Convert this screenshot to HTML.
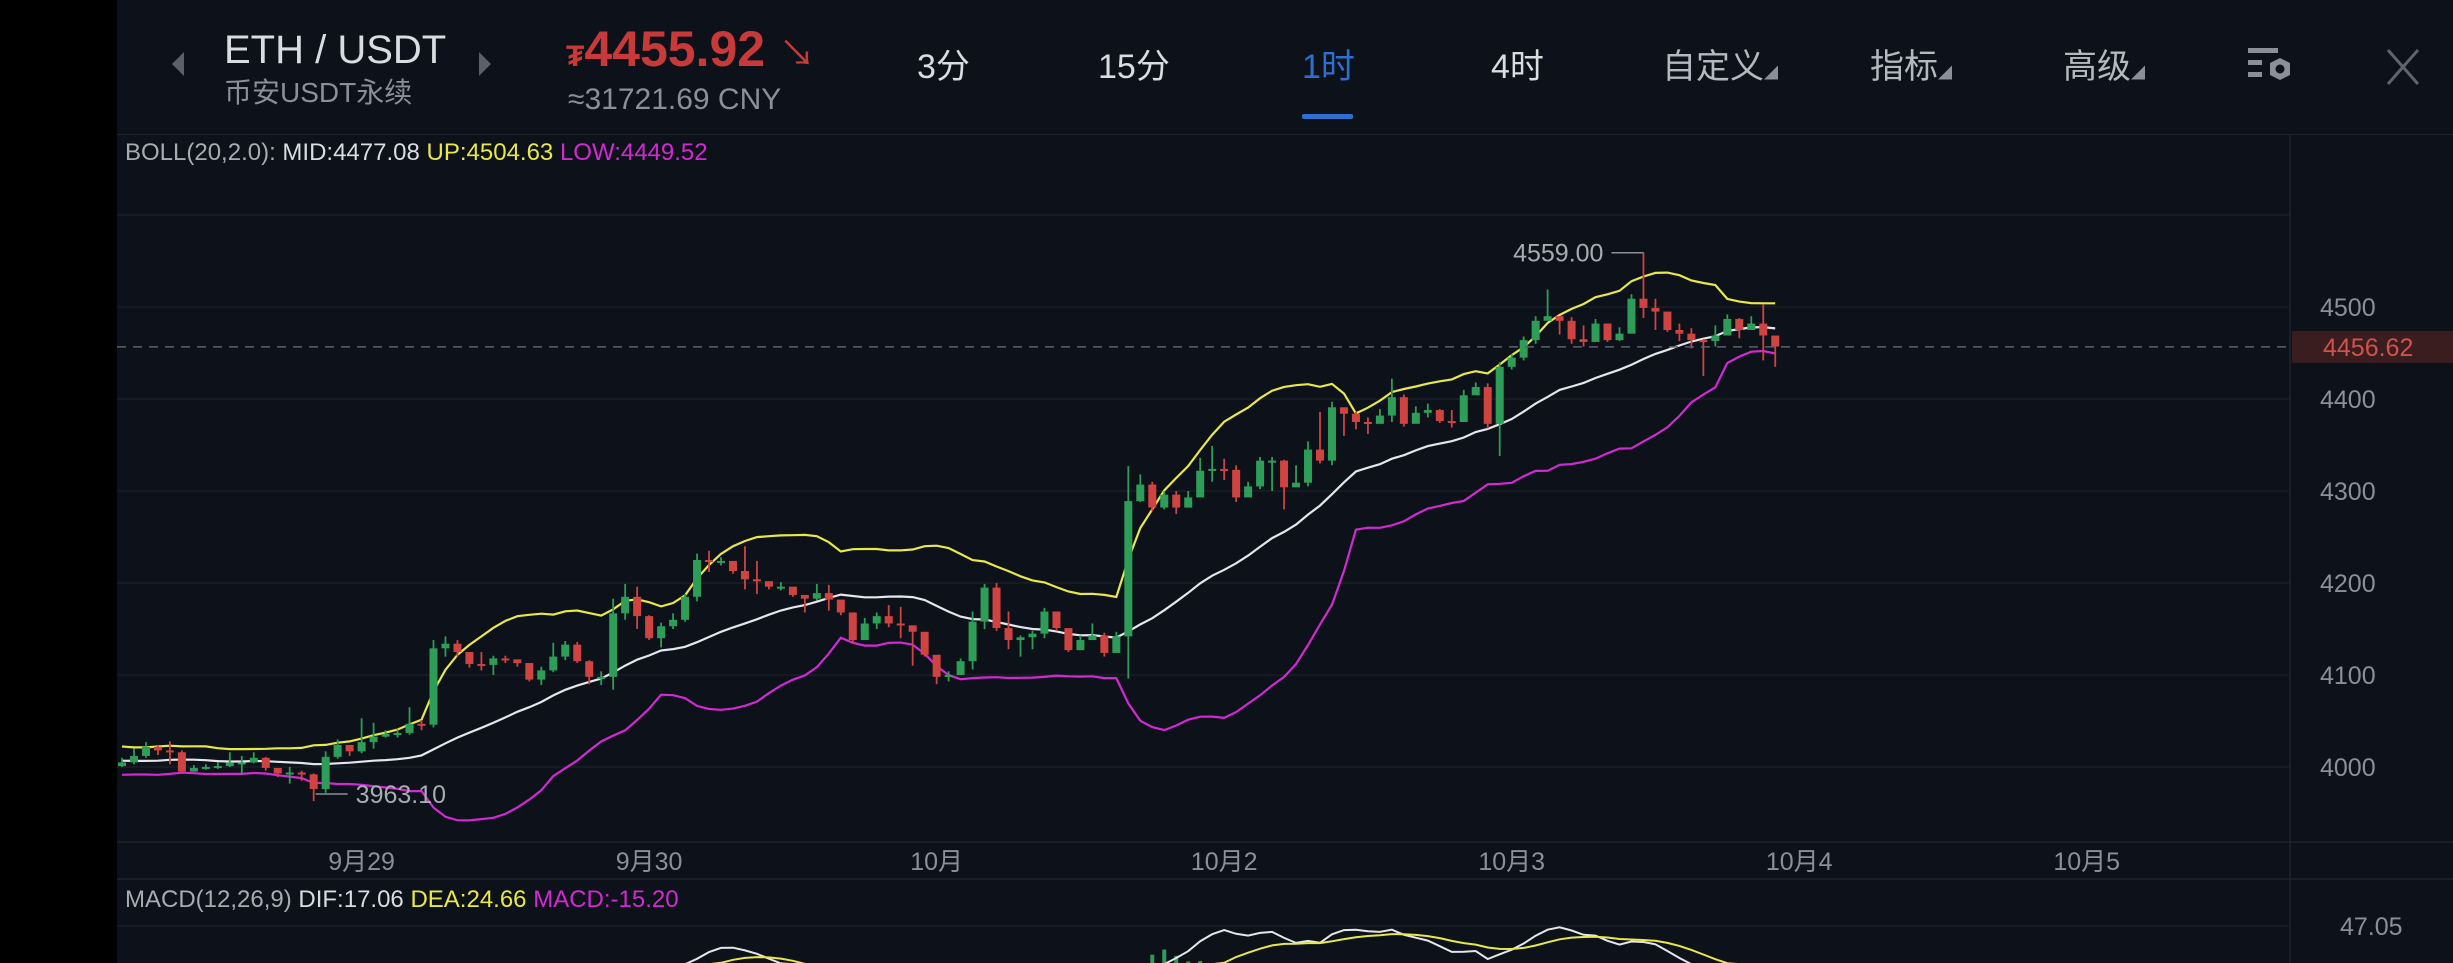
<!DOCTYPE html>
<html><head><meta charset="utf-8">
<style>
html,body{margin:0;padding:0;background:#0d1119;width:2453px;height:963px;overflow:hidden;}
#root{position:relative;width:2453px;height:963px;overflow:hidden;background:#0d1119;font-family:"Liberation Sans","Noto Sans CJK SC",sans-serif;}
.t{position:absolute;white-space:nowrap;line-height:1;}
</style></head>
<body>
<div id="root">
<div class="t" style="left:0;top:0;width:117px;height:963px;background:#000;"></div>
<div class="t" style="left:172px;top:52px;width:0;height:0;border-top:12px solid transparent;border-bottom:12px solid transparent;border-right:12px solid #5a5f68;"></div>
<div class="t" style="left:224px;top:30px;font-size:40px;color:#d9dce1;">ETH / USDT</div>
<div class="t" style="left:479px;top:52px;width:0;height:0;border-top:12px solid transparent;border-bottom:12px solid transparent;border-left:12px solid #5a5f68;"></div>
<div class="t" style="left:224px;top:79px;font-size:28px;color:#8a8f99;">币安USDT永续</div>
<div class="t" style="left:566px;top:24px;font-size:50px;font-weight:bold;color:#c8393a;"><span style="font-size:30px;">₮</span>4455.92 <span style="font-size:36px;font-weight:normal;">↘</span></div>
<div class="t" style="left:568px;top:85px;font-size:30px;color:#8a8f99;">≈31721.69 CNY</div>
<div class="t" style="left:917px;top:50px;font-size:34px;color:#d9dce1;">3分</div>
<div class="t" style="left:1098px;top:50px;font-size:34px;color:#d9dce1;">15分</div>
<div class="t" style="left:1302px;top:50px;font-size:34px;color:#2f6fd0;">1时</div>
<div class="t" style="left:1302px;top:114px;width:51px;height:5px;background:#2f6fd0;border-radius:2px;"></div>
<div class="t" style="left:1491px;top:50px;font-size:34px;color:#d9dce1;">4时</div>
<div class="t" style="left:1662px;top:50px;font-size:34px;color:#b4b8bf;">自定义<span style="font-size:14px;color:#8a8f99;">◢</span></div>
<div class="t" style="left:1870px;top:50px;font-size:34px;color:#b4b8bf;">指标<span style="font-size:14px;color:#8a8f99;">◢</span></div>
<div class="t" style="left:2063px;top:50px;font-size:34px;color:#b4b8bf;">高级<span style="font-size:14px;color:#8a8f99;">◢</span></div>
<svg class="t" style="left:2248px;top:46px;" width="48" height="44" viewBox="0 0 48 44">
<rect x="0" y="2" width="30" height="5" fill="#8a8f99"/><rect x="0" y="14" width="14" height="5" fill="#8a8f99"/><rect x="0" y="26" width="14" height="5" fill="#8a8f99"/>
<polygon points="32,12 42,17 42,29 32,34 22,29 22,17" fill="#8a8f99"/><circle cx="32" cy="23" r="4.5" fill="#0d1119"/></svg>
<svg class="t" style="left:2386px;top:48px;" width="34" height="38"><path d="M2 2 L32 36 M32 2 L2 36" stroke="#5f646d" stroke-width="3"/></svg>
<div class="t" style="left:117px;top:134px;width:2336px;height:1px;background:#1f242c;"></div>
<div class="t" style="left:125px;top:141px;font-size:24px;color:#a7abb2;">BOLL(20,2.0): <span style="color:#d9dce1">MID:4477.08</span> <span style="color:#e8e84a">UP:4504.63</span> <span style="color:#d22ad2">LOW:4449.52</span></div>
<div class="t" style="left:125px;top:888px;font-size:24px;color:#a7abb2;">MACD(12,26,9) <span style="color:#d9dce1">DIF:17.06</span> <span style="color:#e8e84a">DEA:24.66</span> <span style="color:#d22ad2">MACD:-15.20</span></div>
<svg id="chart" class="t" style="left:0;top:0;overflow:hidden;" width="2453" height="963"></svg>
</div>
<script>
const closes=[4005,4012,4022,4018,4016,3995,3999,4000,4001,4005,4005,4010,3999,3993,3994,3992,3976,4011,4024,4017,4027,4033,4036,4037,4047,4046,4129,4134,4125,4112,4111,4118,4117,4113,4095,4105,4120,4133,4115,4098,4098,4167,4185,4164,4140,4153,4160,4185,4225,4224,4224,4213,4204,4202,4196,4196,4187,4183,4189,4182,4168,4138,4156,4164,4156,4154,4147,4122,4098,4100,4115,4158,4195,4151,4138,4141,4145,4169,4151,4127,4138,4143,4124,4142,4289,4307,4282,4296,4282,4293,4322,4324,4323,4293,4305,4333,4333,4304,4309,4345,4333,4391,4384,4375,4373,4382,4402,4373,4385,4388,4376,4375,4404,4413,4373,4435,4445,4464,4485,4490,4485,4465,4462,4482,4464,4471,4509,4499,4495,4475,4471,4464,4463,4469,4487,4475,4482,4469,4457];
const highs=[4010,4020,4027,4023,4028,4018,4002,4003,4005,4016,4012,4016,4011,3998,4000,3996,3993,4017,4030,4022,4053,4048,4040,4041,4065,4051,4138,4142,4138,4125,4125,4121,4121,4116,4113,4109,4135,4137,4136,4116,4104,4183,4199,4196,4165,4157,4167,4188,4232,4235,4228,4216,4240,4224,4200,4201,4192,4186,4199,4198,4170,4146,4162,4168,4176,4174,4152,4126,4111,4104,4118,4169,4199,4200,4169,4143,4148,4173,4155,4130,4143,4156,4146,4147,4327,4318,4310,4300,4300,4300,4336,4349,4335,4328,4310,4337,4337,4334,4328,4354,4386,4397,4390,4386,4380,4389,4422,4405,4392,4395,4389,4388,4410,4418,4417,4440,4449,4468,4490,4519,4490,4489,4480,4487,4469,4478,4514,4559,4509,4493,4482,4477,4465,4480,4492,4488,4490,4503,4461];
const lows=[4000,4003,4010,4013,4003,3993,3995,3997,3998,4000,3992,4004,3996,3989,3982,3985,3963,3972,4009,4012,4015,4020,4032,4032,4035,4040,4043,4120,4120,4108,4105,4100,4113,4109,4093,4089,4103,4116,4113,4090,4089,4084,4160,4150,4138,4130,4150,4158,4180,4212,4219,4210,4193,4188,4193,4192,4185,4168,4181,4170,4165,4135,4138,4150,4152,4140,4110,4120,4090,4093,4110,4106,4150,4148,4128,4120,4128,4140,4148,4125,4130,4141,4120,4127,4096,4288,4278,4280,4275,4288,4318,4310,4312,4288,4294,4302,4300,4280,4305,4305,4330,4328,4360,4367,4362,4378,4375,4370,4378,4380,4374,4369,4378,4408,4368,4338,4432,4442,4460,4487,4470,4460,4457,4478,4462,4463,4480,4488,4475,4473,4463,4455,4425,4457,4482,4466,4475,4442,4435];
const priorCloses=[4000,4015,4020,4010,3995,4000,4005,4018,4022,4012,3998,3990,4002,4010,4020,4015,4005,3998,4003,4006,4009,4004,4001,4007,4010,4003];
const priceTicks=[4500,4400,4300,4200,4100,4000];
const gridPrices=[4600,4500,4400,4300,4200,4100,4000];
const dateLabels=["9月29","9月30","10月","10月2","10月3","10月4","10月5"];
const dateIndex=[20,44,68,92,116,140,164];
const lastPrice=4456.62, maxHigh=4559.00, minLow=3963.10;
const macdTop=47.05;

const svg=document.getElementById('chart');
const NS='http://www.w3.org/2000/svg';
const X0=122, STEP=11.98;
function xAt(i){return X0+i*STEP;}
function yP(p){return 307+(4500-p)*0.92;}
function yM(v){return Math.min(964.2,926+(macdTop-v)*2.4);}
function mk(tag,attrs,parent){const e=document.createElementNS(NS,tag);for(const k in attrs)e.setAttribute(k,attrs[k]);(parent||svg).appendChild(e);return e;}

const defs=mk('defs',{});
const cp=mk('clipPath',{id:'mainclip'},defs);mk('rect',{x:117,y:135,width:2173,height:707},cp);
const cp2=mk('clipPath',{id:'macdclip'},defs);mk('rect',{x:117,y:880,width:2173,height:83},cp2);

let e;
e=mk('line',{x1:2290,y1:135,x2:2290,y2:963,stroke:'#1f242c','stroke-width':1.5});


e=mk('line',{x1:117,y1:842,x2:2453,y2:842,stroke:'#1f242c','stroke-width':1.5});


e=mk('line',{x1:117,y1:879,x2:2453,y2:879,stroke:'#1f242c','stroke-width':1.5});


e=mk('line',{x1:117,y1:926,x2:2290,y2:926,stroke:'#1a1f27','stroke-width':1.5});



gridPrices.forEach(p=>{
  const g=mk('line',{x1:117,y1:yP(p),x2:2290,y2:yP(p),stroke:'#1a1f27','stroke-width':1.5});
  
  
});
priceTicks.forEach(p=>{
  const t=mk('text',{x:2320,y:yP(p)+9,fill:'#8a8f99','font-size':25,'font-family':'Liberation Sans, sans-serif'});
  t.textContent=p;
  
  
});
dateLabels.forEach((d,k)=>{
  const t=mk('text',{x:xAt(dateIndex[k]),y:870,fill:'#8a8f99','font-size':25,'text-anchor':'middle','font-family':'Liberation Sans, Noto Sans CJK SC, sans-serif'});
  t.textContent=d;
  
  
});
e=mk('text',{x:2340,y:935,fill:'#8a8f99','font-size':25,'font-family':'Liberation Sans, sans-serif'});
e.textContent=macdTop.toFixed(2);



const main=mk('g',{'clip-path':'url(#mainclip)'});
const all=priorCloses.concat(closes), off=priorCloses.length;
const mid=[],up=[],lo=[];
for(let i=0;i<closes.length;i++){
  const s=all.slice(off+i-19,off+i+1);
  const m=s.reduce((a,b)=>a+b,0)/20;
  const sd=Math.sqrt(s.reduce((a,b)=>a+(b-m)*(b-m),0)/20);
  mid.push(m);up.push(m+2*sd);lo.push(m-2*sd);
}
function poly(arr,yf){
  return arr.map((v,i)=>xAt(i).toFixed(1)+','+yf(v).toFixed(1)).join(' ');
}
[[up,'#e8e84a','boll-upper-band'],[mid,'#e4e6ea','boll-mid-band'],[lo,'#d22ad2','boll-lower-band']].forEach(b=>{
  const pl=mk('polyline',{points:poly(b[0],yP),fill:'none',stroke:b[1],'stroke-width':2.2},main);
  
  
});
closes.forEach((c,i)=>{
  const o=i===0?4001:closes[i-1];
  const upc=c>=o;
  const col=upc?'#2e9d58':'#cf4340';
  const x=xAt(i);
  const w=mk('line',{x1:x,y1:yP(highs[i]),x2:x,y2:yP(lows[i]),stroke:col,'stroke-width':1.8},main);
  
  
  const top=yP(Math.max(o,c)),bot=yP(Math.min(o,c));
  const r=mk('rect',{x:x-4,y:top,width:8,height:Math.max(2,bot-top),fill:col},main);
  
  
});
e=mk('line',{x1:117,y1:yP(lastPrice),x2:2290,y2:yP(lastPrice),stroke:'#5b616b','stroke-width':1.5,'stroke-dasharray':'9,7'});


e=mk('rect',{x:2292,y:yP(lastPrice)-16,width:161,height:32,fill:'#3a1d1f'});


e=mk('text',{x:2323,y:yP(lastPrice)+9,fill:'#d0524c','font-size':25,'font-family':'Liberation Sans, sans-serif'});
e.textContent=lastPrice.toFixed(2);


const iMax=highs.indexOf(Math.max(...highs)), iMin=lows.indexOf(Math.min(...lows));
e=mk('line',{x1:xAt(iMax)-32,y1:yP(maxHigh),x2:xAt(iMax),y2:yP(maxHigh),stroke:'#8a8f99','stroke-width':1.5});


e=mk('text',{x:xAt(iMax)-40,y:yP(maxHigh)+9,fill:'#a7abb2','font-size':25,'text-anchor':'end','font-family':'Liberation Sans, sans-serif'});
e.textContent=maxHigh.toFixed(2);


e=mk('line',{x1:xAt(iMin)+2,y1:yP(minLow)-7,x2:xAt(iMin)+34,y2:yP(minLow)-7,stroke:'#8a8f99','stroke-width':1.5});


e=mk('text',{x:xAt(iMin)+42,y:yP(minLow)+2,fill:'#a7abb2','font-size':25,'font-family':'Liberation Sans, sans-serif'});
e.textContent=minLow.toFixed(2);



const mg=mk('g',{'clip-path':'url(#macdclip)'});
function ema(arr,n){const k=2/(n+1);const out=[];let v=arr[0];arr.forEach((a,i)=>{v=i===0?a:a*k+v*(1-k);out.push(v);});return out;}
const e12=ema(all,12),e26=ema(all,26);
const difAll=e12.map((v,i)=>v-e26[i]);
const deaAll=ema(difAll,9);
const dif=difAll.slice(off),dea=deaAll.slice(off);
dif.forEach((d,i)=>{
  const h=(d-dea[i])*2;
  const b=mk('line',{x1:xAt(i),y1:yM(0),x2:xAt(i),y2:yM(h),stroke:h>=0?'#2e9d58':'#cf4340','stroke-width':4},mg);
  
  
});
e=mk('polyline',{points:poly(dif,yM),fill:'none',stroke:'#e4e6ea','stroke-width':2},mg);


e=mk('polyline',{points:poly(dea,yM),fill:'none',stroke:'#e8e84a','stroke-width':2},mg);


</script>
</body></html>
